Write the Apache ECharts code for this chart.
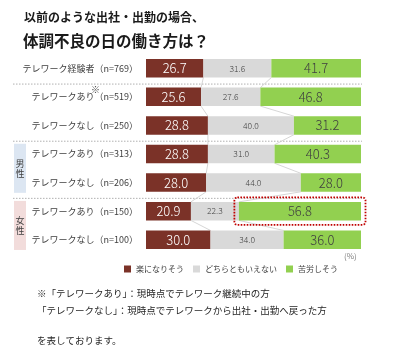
<!DOCTYPE html>
<html>
<head>
<meta charset="utf-8">
<script src="https://cdn.jsdelivr.net/npm/echarts@6/dist/echarts.min.js"></script>
<style>
html, body { margin: 0; padding: 0; background: #fff; }
#chart { width: 400px; height: 353px; }
</style>
</head>
<body>
<div id="chart"></div>
<script>
// 回答者区分
const rows = [
    'テレワーク経験者（n=769）',
    'テレワークあり（n=519）',
    'テレワークなし（n=250）',
    'テレワークあり（n=313）',
    'テレワークなし（n=206）',
    'テレワークあり（n=150）',
    'テレワークなし（n=100）'
];
const seriesNames = ['楽になりそう', 'どちらともいえない', '苦労しそう'];
const easier = [26.7, 25.6, 28.8, 28.8, 28.0, 20.9, 30.0];
const neutral = [31.6, 27.6, 40.0, 31.0, 44.0, 22.3, 34.0];
const harder = [41.7, 46.8, 31.2, 40.3, 28.0, 56.8, 36.0];
const groupEnds = [0, 2, 4];   // 点線で区切る行
const highlightRow = 5;        // 赤枠で囲む行

const FONT = 'Noto Sans CJK JP';
const BAR_W = 18.5;

const chart = echarts.init(document.getElementById('chart'));

function makeSeries(name, data, color, labelColor, labelSize) {
    return {
        name: name,
        type: 'bar',
        stack: 'total',
        barWidth: BAR_W,
        itemStyle: { color: color },
        label: {
            show: true,
            position: 'inside',
            color: labelColor,
            fontSize: labelSize,
            fontWeight: 300,
            fontFamily: FONT,
            formatter: p => p.value.toFixed(1)
        },
        emphasis: { disabled: true },
        data: data
    };
}

const option = {
    animation: false,
    title: [
        {
            text: '以前のような出社・出勤の場合、',
            left: 19, top: 6,
            textStyle: { fontSize: 12, fontWeight: 'bold', color: '#1a1a1a', fontFamily: FONT }
        },
        {
            text: '体調不良の日の働き方は？',
            left: 18, top: 28,
            textStyle: { fontSize: 15.5, fontWeight: 'bold', color: '#1a1a1a', fontFamily: FONT }
        }
    ],
    legend: {
        data: seriesNames,
        left: 119,
        top: 260,
        icon: 'rect',
        itemWidth: 7,
        itemHeight: 7,
        itemGap: 9,
        textStyle: { fontSize: 8, color: '#404040', fontFamily: FONT }
    },
    grid: { left: 146, right: 39, top: 54, height: 200 },
    xAxis: { type: 'value', min: 0, max: 100, show: false },
    yAxis: {
        type: 'category',
        inverse: true,
        data: rows,
        axisLine: { show: false },
        axisTick: { show: false },
        axisLabel: { fontSize: 9, color: '#404040', margin: 8, fontFamily: FONT }
    },
    series: [
        makeSeries(seriesNames[0], easier, '#7b3228', '#ffffff', 13),
        makeSeries(seriesNames[1], neutral, '#d9d9d9', '#404040', 8.5),
        makeSeries(seriesNames[2], harder, '#92d050', '#404040', 13)
    ]
};
chart.setOption(option);

// 系列線・区切り線・枠などを軸から計算して追加
const px = (v, i) => chart.convertToPixel({ gridIndex: 0 }, [v, i]);
const graphics = [];
const half = BAR_W / 2;

for (let i = 0; i < rows.length - 1; i++) {
    const b1 = [easier[i], easier[i + 1]];
    const b2 = [easier[i] + neutral[i], easier[i + 1] + neutral[i + 1]];
    [b1, b2].forEach(b => {
        const a = px(b[0], i);
        const c = px(b[1], i + 1);
        graphics.push({
            type: 'line', silent: true, z: 1,
            shape: { x1: a[0], y1: a[1] + half, x2: c[0], y2: c[1] - half },
            style: { stroke: '#cccccc', lineWidth: 0.8 }
        });
    });
}

groupEnds.forEach(i => {
    const y = (px(0, i)[1] + px(0, i + 1)[1]) / 2 + 1.5;
    graphics.push({
        type: 'line', silent: true,
        shape: { x1: 13, y1: y, x2: px(100, i)[0] + 1, y2: y },
        style: { stroke: '#b0b0b0', lineWidth: 1, lineDash: [1.5, 1.5] }
    });
});

// 性別ラベル
function genderBox(from, to, fill, label) {
    const top = px(0, from)[1] - half - 1;
    const bottom = px(0, to)[1] + half + 1;
    graphics.push({
        type: 'rect', silent: true,
        shape: { x: 14, y: top, width: 12, height: bottom - top },
        style: { fill: fill }
    });
    graphics.push({
        type: 'text', silent: true,
        x: 20, y: (top + bottom) / 2,
        style: {
            text: label, fill: '#404040', fontSize: 9, fontFamily: FONT,
            align: 'center', verticalAlign: 'middle', lineHeight: 10
        }
    });
}
genderBox(3, 4, '#dce6f2', '男\n性');
genderBox(5, 6, '#f2dcdb', '女\n性');

// 赤い点線枠
const s = px(easier[highlightRow] + neutral[highlightRow], highlightRow);
const e = px(100, highlightRow);
graphics.push({
    type: 'rect', silent: true, z: 10,
    shape: { x: s[0] - 4.5, y: s[1] - half - 4.5, width: e[0] - s[0] + 9, height: BAR_W + 9, r: 3 },
    style: { fill: null, stroke: '#c00000', lineWidth: 1.8, lineDash: [1.6, 1.4] }
});

// 注記
graphics.push({
    type: 'text', silent: true, x: 91, y: 85,
    style: { text: '※', fontSize: 9, fill: '#404040', fontFamily: FONT }
});
graphics.push({
    type: 'text', silent: true, x: 344, y: 252,
    style: { text: '(%)', fontSize: 8, fill: '#808080', fontFamily: FONT }
});
const notes = [
    ['※「テレワークあり」：現時点でテレワーク継続中の方', 289],
    ['「テレワークなし」：現時点でテレワークから出社・出勤へ戻った方', 306],
    ['を表しております。', 336]
];
notes.forEach(n => {
    graphics.push({
        type: 'text', silent: true, x: 37, y: n[1],
        style: { text: n[0], fontSize: 9.5, fill: '#262626', fontFamily: FONT }
    });
});

chart.setOption({ graphic: graphics });

window.addEventListener('resize', () => {
    chart.resize();
});
</script>
</body>
</html>
